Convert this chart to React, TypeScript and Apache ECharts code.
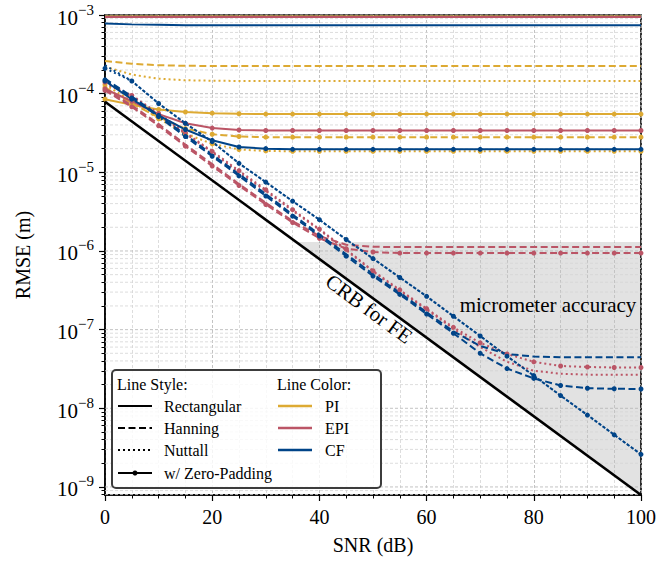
import React, { useEffect, useRef } from 'react';
import * as echarts from 'echarts';

// ---------- data ----------
const SNR = [0, 5, 10, 15, 20, 25, 30, 35, 40, 45, 50, 55, 60, 65, 70, 75, 80, 85, 90, 95, 100];

// PI (yellow)
const PI_RECT = [9.6e-4, 9.6e-4, 9.6e-4, 9.6e-4, 9.6e-4, 9.6e-4, 9.6e-4, 9.6e-4, 9.6e-4, 9.6e-4, 9.6e-4, 9.6e-4, 9.6e-4, 9.6e-4, 9.6e-4, 9.6e-4, 9.6e-4, 9.6e-4, 9.6e-4, 9.6e-4, 9.6e-4];
const PI_RECT_ZP = [8.5e-5, 7.2e-5, 6.3e-5, 5.85e-5, 5.65e-5, 5.55e-5, 5.5e-5, 5.5e-5, 5.5e-5, 5.5e-5, 5.5e-5, 5.5e-5, 5.5e-5, 5.5e-5, 5.5e-5, 5.5e-5, 5.5e-5, 5.5e-5, 5.5e-5, 5.5e-5, 5.5e-5];
const PI_HANN = [2.6e-4, 2.4e-4, 2.3e-4, 2.26e-4, 2.25e-4, 2.25e-4, 2.25e-4, 2.25e-4, 2.25e-4, 2.25e-4, 2.25e-4, 2.25e-4, 2.25e-4, 2.25e-4, 2.25e-4, 2.25e-4, 2.25e-4, 2.25e-4, 2.25e-4, 2.25e-4, 2.25e-4];
const PI_HANN_ZP = [1.2e-4, 7.5e-5, 5.0e-5, 3.6e-5, 3.05e-5, 2.85e-5, 2.8e-5, 2.8e-5, 2.8e-5, 2.8e-5, 2.8e-5, 2.8e-5, 2.8e-5, 2.8e-5, 2.8e-5, 2.8e-5, 2.8e-5, 2.8e-5, 2.8e-5, 2.8e-5, 2.8e-5];
const PI_NUTT = [2.2e-4, 1.75e-4, 1.55e-4, 1.48e-4, 1.46e-4, 1.45e-4, 1.45e-4, 1.45e-4, 1.45e-4, 1.45e-4, 1.45e-4, 1.45e-4, 1.45e-4, 1.45e-4, 1.45e-4, 1.45e-4, 1.45e-4, 1.45e-4, 1.45e-4, 1.45e-4, 1.45e-4];
const PI_NUTT_ZP = [1.3e-4, 8.0e-5, 4.8e-5, 3.1e-5, 2.3e-5, 1.95e-5, 1.87e-5, 1.85e-5, 1.85e-5, 1.85e-5, 1.85e-5, 1.85e-5, 1.85e-5, 1.85e-5, 1.85e-5, 1.85e-5, 1.85e-5, 1.85e-5, 1.85e-5, 1.85e-5, 1.85e-5];

// EPI (red)
const EPI_RECT = [9.45e-4, 9.45e-4, 9.45e-4, 9.45e-4, 9.45e-4, 9.45e-4, 9.45e-4, 9.45e-4, 9.45e-4, 9.45e-4, 9.45e-4, 9.45e-4, 9.45e-4, 9.45e-4, 9.45e-4, 9.45e-4, 9.45e-4, 9.45e-4, 9.45e-4, 9.45e-4, 9.45e-4];
const EPI_RECT_ZP = [1.15e-4, 8.0e-5, 5.5e-5, 4.2e-5, 3.65e-5, 3.45e-5, 3.4e-5, 3.4e-5, 3.4e-5, 3.4e-5, 3.4e-5, 3.4e-5, 3.4e-5, 3.4e-5, 3.4e-5, 3.4e-5, 3.4e-5, 3.4e-5, 3.4e-5, 3.4e-5, 3.4e-5];
const EPI_HANN = [1.15e-4, 7.1e-5, 4.1e-5, 2.25e-5, 1.27e-5, 7.1e-6, 4.1e-6, 2.4e-6, 1.55e-6, 1.2e-6, 1.13e-6, 1.12e-6, 1.12e-6, 1.12e-6, 1.12e-6, 1.12e-6, 1.12e-6, 1.12e-6, 1.12e-6, 1.12e-6, 1.12e-6];
const EPI_HANN_ZP = [1.1e-4, 6.8e-5, 3.9e-5, 2.15e-5, 1.2e-5, 6.8e-6, 3.9e-6, 2.3e-6, 1.45e-6, 1.07e-6, 9.7e-7, 9.4e-7, 9.4e-7, 9.4e-7, 9.4e-7, 9.4e-7, 9.4e-7, 9.4e-7, 9.4e-7, 9.4e-7, 9.4e-7];
const EPI_NUTT = [1.35e-4, 9.2e-5, 5.4e-5, 3.1e-5, 1.8e-5, 1.0e-5, 5.8e-6, 3.25e-6, 1.85e-6, 1.02e-6, 5.5e-7, 3.1e-7, 1.8e-7, 1.03e-7, 6.0e-8, 3.9e-8, 3.0e-8, 2.75e-8, 2.68e-8, 2.67e-8, 2.67e-8];
const EPI_NUTT_ZP = [1.4e-4, 9.5e-5, 5.6e-5, 3.2e-5, 1.85e-5, 1.05e-5, 6.0e-6, 3.35e-6, 1.9e-6, 1.05e-6, 5.6e-7, 3.2e-7, 1.85e-7, 1.07e-7, 6.8e-8, 4.9e-8, 3.9e-8, 3.45e-8, 3.35e-8, 3.3e-8, 3.3e-8];

// CF (blue)
const CF_RECT = [7.8e-4, 7.6e-4, 7.5e-4, 7.4e-4, 7.4e-4, 7.4e-4, 7.4e-4, 7.4e-4, 7.4e-4, 7.4e-4, 7.4e-4, 7.4e-4, 7.4e-4, 7.4e-4, 7.4e-4, 7.4e-4, 7.4e-4, 7.4e-4, 7.4e-4, 7.4e-4, 7.4e-4];
const CF_RECT_ZP = [1.45e-4, 8.5e-5, 5.3e-5, 3.5e-5, 2.55e-5, 2.1e-5, 2.0e-5, 1.96e-5, 1.96e-5, 1.96e-5, 1.96e-5, 1.96e-5, 1.96e-5, 1.96e-5, 1.96e-5, 1.96e-5, 1.96e-5, 1.96e-5, 1.96e-5, 1.96e-5, 1.96e-5];
const CF_HANN = [1.55e-4, 9.2e-5, 5.3e-5, 3.0e-5, 1.68e-5, 9.5e-6, 5.3e-6, 2.9e-6, 1.63e-6, 9.1e-7, 5.1e-7, 2.95e-7, 1.66e-7, 9.5e-8, 6.2e-8, 4.9e-8, 4.55e-8, 4.45e-8, 4.45e-8, 4.45e-8, 4.45e-8];
const CF_HANN_ZP = [1.5e-4, 8.8e-5, 5.1e-5, 2.85e-5, 1.6e-5, 9.0e-6, 5.0e-6, 2.77e-6, 1.55e-6, 8.6e-7, 4.8e-7, 2.8e-7, 1.58e-7, 9.0e-8, 5.0e-8, 3.2e-8, 2.4e-8, 1.95e-8, 1.8e-8, 1.77e-8, 1.76e-8];
const CF_NUTT = [2.3e-4, 1.45e-4, 7.5e-5, 4.2e-5, 2.45e-5, 1.3e-5, 7.5e-6, 4.3e-6, 2.5e-6, 1.4e-6, 8.0e-7, 4.6e-7, 2.65e-7, 1.48e-7, 8.3e-8, 4.6e-8, 2.6e-8, 1.45e-8, 8.2e-9, 4.6e-9, 2.6e-9];
const CF_NUTT_ZP = [2.1e-4, 1.45e-4, 7.5e-5, 4.2e-5, 2.45e-5, 1.3e-5, 7.5e-6, 4.3e-6, 2.5e-6, 1.4e-6, 8.0e-7, 4.6e-7, 2.65e-7, 1.48e-7, 8.3e-8, 4.6e-8, 2.6e-8, 1.45e-8, 8.2e-9, 4.6e-9, 2.6e-9];

// Cramér-Rao bound (straight line on log scale)
const CRB_X = [0, 100];
const CRB_Y = [7.9e-5, 7.9e-10];

// shaded "micrometer accuracy" region
const SHADE_X = [35.7, 100, 100];
const SHADE_Y = [1.3e-6, 1.3e-6, 7.9e-10];

// axes
const Y_MIN = 7.9e-10;
const Y_MAX = 1e-3;
const Y_EXPONENTS = [-9, -8, -7, -6, -5, -4, -3];
const MINOR_MULT = [2, 3, 4, 5, 6, 7, 8, 9];

// ---------- style ----------
const FONT = 'Liberation Serif';
const C_PI = '#DDAA33';
const C_EPI = '#BB5566';
const C_CF = '#004488';
const DASH: number[] = [7, 3.5];
const DOT: number[] = [2, 3];

const lg = (v: number) => Math.log10(v);
const pairs = (xs: number[], ys: number[]) => xs.map((x, i) => [x, lg(ys[i])]);

function lineSeries(name: string, ys: number[], color: string, dash: any, zp: boolean) {
  return {
    type: 'line',
    name,
    data: pairs(SNR, ys),
    showSymbol: zp,
    symbol: 'circle',
    symbolSize: 5,
    lineStyle: { color, width: 2, type: dash, cap: 'butt' },
    itemStyle: { color },
    silent: true,
    z: 3,
  };
}

export default function App() {
  const ref = useRef<HTMLDivElement>(null);
  useEffect(() => {
    if (!ref.current) return;
    const chart = echarts.init(ref.current, undefined, { renderer: 'svg' });
    const yMin = lg(Y_MIN);
    const yMax = lg(Y_MAX);
    const minor: number[] = [];
    for (let n = Y_EXPONENTS[0] - 1; n < Y_EXPONENTS[Y_EXPONENTS.length - 1]; n++) {
      for (const k of MINOR_MULT) {
        const v = n + Math.log10(k);
        if (v >= yMin && v <= yMax) minor.push(v);
      }
    }
    const gridData = [
      ...Y_EXPONENTS.map((v) => [50, v, 1]),
      ...minor.map((v) => [50, v, 0]),
    ];
    const shadeData = SHADE_X.map((x, i) => [x, lg(SHADE_Y[i])]);

    const series: any[] = [
      {
        type: 'custom',
        silent: true,
        z: 1,
        data: shadeData,
        renderItem: (params: any, api: any) => {
          if (params.dataIndex !== 0) return null;
          const pts = shadeData.map((d) => api.coord(d));
          return { type: 'polygon', shape: { points: pts }, style: { fill: 'rgba(0,0,0,0.115)' } };
        },
      },
      {
        type: 'custom',
        silent: true,
        z: 1,
        data: gridData,
        renderItem: (params: any, api: any) => {
          const v = api.value(1);
          const major = api.value(2);
          const a = api.coord([0, v]);
          const b = api.coord([100, v]);
          return {
            type: 'line',
            shape: { x1: a[0], y1: a[1], x2: b[0], y2: b[1] },
            style: { stroke: major ? '#b4b4b4' : '#d4d4d4', lineWidth: 0.8, lineDash: [3, 2] },
          };
        },
      },
      lineSeries('PI Rect', PI_RECT, C_PI, 'solid', false),
      lineSeries('PI Hann', PI_HANN, C_PI, DASH, false),
      lineSeries('PI Nutt', PI_NUTT, C_PI, DOT, false),
      lineSeries('PI Rect ZP', PI_RECT_ZP, C_PI, 'solid', true),
      lineSeries('PI Hann ZP', PI_HANN_ZP, C_PI, DASH, true),
      lineSeries('PI Nutt ZP', PI_NUTT_ZP, C_PI, DOT, true),
      lineSeries('EPI Rect', EPI_RECT, C_EPI, 'solid', false),
      lineSeries('EPI Hann', EPI_HANN, C_EPI, DASH, false),
      lineSeries('EPI Nutt', EPI_NUTT, C_EPI, DOT, false),
      lineSeries('EPI Rect ZP', EPI_RECT_ZP, C_EPI, 'solid', true),
      lineSeries('EPI Hann ZP', EPI_HANN_ZP, C_EPI, DASH, true),
      lineSeries('EPI Nutt ZP', EPI_NUTT_ZP, C_EPI, DOT, true),
      lineSeries('CF Rect', CF_RECT, C_CF, 'solid', false),
      lineSeries('CF Hann', CF_HANN, C_CF, DASH, false),
      lineSeries('CF Nutt', CF_NUTT, C_CF, DOT, false),
      lineSeries('CF Rect ZP', CF_RECT_ZP, C_CF, 'solid', true),
      lineSeries('CF Hann ZP', CF_HANN_ZP, C_CF, DASH, true),
      lineSeries('CF Nutt ZP', CF_NUTT_ZP, C_CF, DOT, true),
      {
        type: 'line',
        name: 'CRB for FE',
        data: pairs(CRB_X, CRB_Y),
        showSymbol: false,
        lineStyle: { color: '#000', width: 2.6 },
        silent: true,
        z: 4,
      },
    ];

    const txt = (text: string, x: number, y: number, size: number, extra: any = {}) => ({
      type: 'text',
      x,
      y,
      z: 20,
      silent: true,
      ...extra,
      style: {
        text,
        fontSize: size,
        fontFamily: FONT,
        fill: '#000',
        textVerticalAlign: 'middle',
        verticalAlign: 'middle',
        ...(extra.style || {}),
      },
    });
    const seg = (x1: number, x2: number, y: number, stroke: string, lw: number, dash?: number[]) => ({
      type: 'line',
      z: 20,
      silent: true,
      shape: { x1, y1: y, x2, y2: y },
      style: { stroke, lineWidth: lw, lineDash: dash || null },
    });

    const LX = 112, LY = 370, LW = 269, LH = 118;
    const rows = [406, 428, 450, 473];
    const graphic: any[] = [
      {
        type: 'rect',
        z: 19,
        silent: true,
        shape: { x: LX, y: LY, width: LW, height: LH, r: 4 },
        style: { fill: 'rgba(255,255,255,0.82)', stroke: '#3c3c3c', lineWidth: 2 },
      },
      txt('Line Style:', 117, 384, 16),
      txt('Line Color:', 277, 384, 16),
      seg(118, 152, rows[0], '#000', 2),
      txt('Rectangular', 164, rows[0], 16),
      seg(118, 152, rows[1], '#000', 2, DASH),
      txt('Hanning', 164, rows[1], 16),
      seg(118, 152, rows[2], '#000', 2, DOT),
      txt('Nuttall', 164, rows[2], 16),
      seg(118, 152, rows[3], '#000', 2),
      { type: 'circle', z: 21, silent: true, shape: { cx: 135, cy: rows[3], r: 2.5 }, style: { fill: '#000' } },
      txt('w/ Zero-Padding', 164, rows[3], 16),
      seg(278, 312, rows[0], C_PI, 2.5),
      txt('PI', 325, rows[0], 16),
      seg(278, 312, rows[1], C_EPI, 2.5),
      txt('EPI', 325, rows[1], 16),
      seg(278, 312, rows[2], C_CF, 2.5),
      txt('CF', 325, rows[2], 16),
      txt('CRB for FE', 369, 309, 21, { rotation: -0.633, style: { textAlign: 'center', align: 'center' } }),
      txt('micrometer accuracy', 548, 305, 21, { style: { textAlign: 'center', align: 'center' } }),
    ];

    chart.setOption({
      animation: false,
      backgroundColor: '#fff',
      textStyle: { fontFamily: FONT },
      grid: {
        left: 105,
        right: 18,
        top: 15,
        bottom: 70,
        show: true,
        borderColor: '#000',
        borderWidth: 1.6,
        backgroundColor: 'transparent',
      },
      xAxis: {
        type: 'value',
        min: 0,
        max: 100,
        interval: 20,
        axisLine: { show: true, lineStyle: { color: '#000', width: 1.6 } },
        axisTick: { show: true, length: 6, lineStyle: { color: '#000', width: 1.2 } },
        minorTick: { show: true, splitNumber: 4, length: 3.5, lineStyle: { color: '#000', width: 1 } },
        axisLabel: { fontSize: 20, color: '#000', fontFamily: FONT, margin: 12 },
        splitLine: { show: true, lineStyle: { color: '#b4b4b4', type: [3, 2], width: 0.8 } },
        minorSplitLine: { show: true, lineStyle: { color: '#d4d4d4', type: [3, 2], width: 0.8 } },
        name: 'SNR (dB)',
        nameLocation: 'middle',
        nameGap: 40,
        nameTextStyle: { fontSize: 20, color: '#000', fontFamily: FONT },
      },
      yAxis: [
        {
          type: 'value',
          min: yMin,
          max: yMax,
          position: 'left',
          axisLine: { show: true, lineStyle: { color: '#000', width: 1.6 } },
          axisTick: { show: true, customValues: Y_EXPONENTS, length: 6, lineStyle: { color: '#000', width: 1.2 } },
          axisLabel: {
            customValues: Y_EXPONENTS,
            margin: 11,
            color: '#000',
            fontFamily: FONT,
            formatter: (v: number) => `{b|10}{e|\u2212${Math.round(-v)}}`,
            rich: {
              b: { fontSize: 21, fontFamily: FONT, color: '#000', lineHeight: 26, verticalAlign: 'bottom' },
              e: { fontSize: 15, fontFamily: FONT, color: '#000', lineHeight: 15, verticalAlign: 'top' },
            },
          },
          splitLine: { show: false },
          name: 'RMSE (m)',
          nameLocation: 'middle',
          nameGap: 72,
          nameTextStyle: { fontSize: 20, color: '#000', fontFamily: FONT },
        },
        {
          type: 'value',
          min: yMin,
          max: yMax,
          position: 'left',
          axisLine: { show: false },
          axisTick: { show: true, customValues: minor, length: 3.5, lineStyle: { color: '#000', width: 1 } },
          axisLabel: { show: false },
          splitLine: { show: false },
        },
      ],
      series,
      graphic,
    });
    return () => chart.dispose();
  }, []);
  return (
    <div
      ref={ref}
      style={{ position: 'absolute', left: 0, top: 0, width: 659, height: 565, background: '#fff' }}
    />
  );
}
